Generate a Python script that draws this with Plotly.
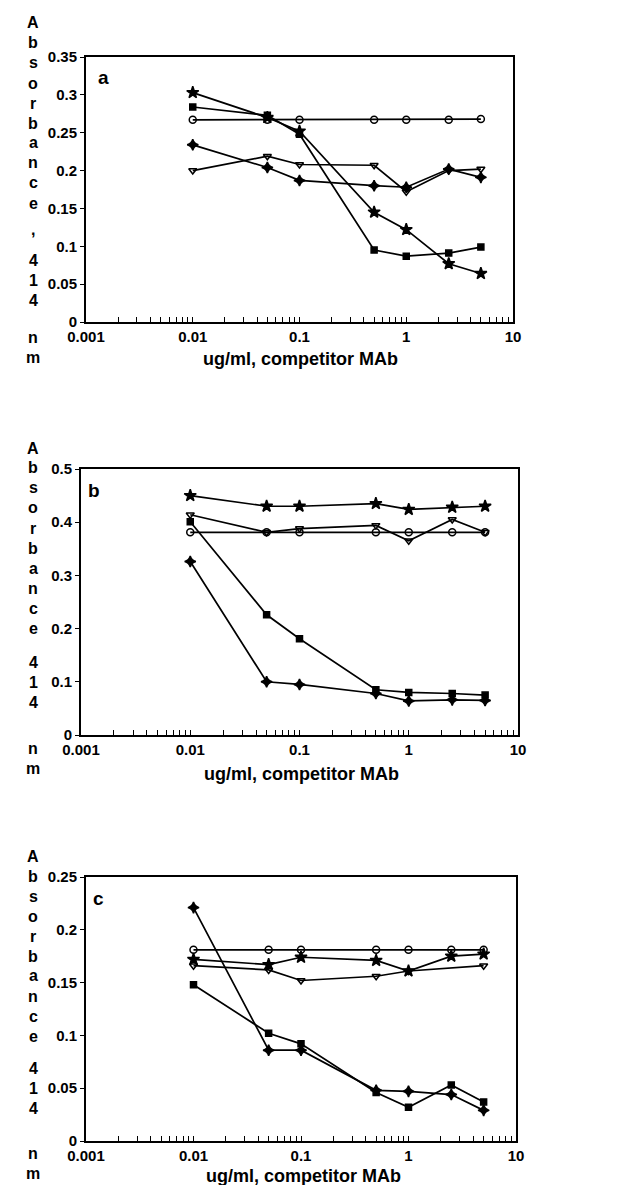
import plotly.graph_objects as go

# ---------------- data ----------------
conc = [0.01, 0.05, 0.1, 0.5, 1, 2.5, 5]

# panel a
a_circle = [0.267, 0.267, 0.267, 0.267, 0.267, 0.267, 0.268]
a_star = [0.303, 0.270, 0.252, 0.145, 0.122, 0.077, 0.064]
a_square = [0.284, 0.273, 0.248, 0.095, 0.087, 0.091, 0.099]
a_plus = [0.234, 0.204, 0.187, 0.180, 0.178, 0.202, 0.191]
a_tri = [0.200, 0.219, 0.208, 0.207, 0.172, 0.200, 0.202]

# panel b
b_circle = [0.381, 0.381, 0.381, 0.381, 0.381, 0.381, 0.381]
b_star = [0.450, 0.430, 0.430, 0.435, 0.424, 0.428, 0.430]
b_square = [0.401, 0.226, 0.181, 0.085, 0.080, 0.078, 0.075]
b_plus = [0.326, 0.100, 0.095, 0.078, 0.064, 0.066, 0.065]
b_tri = [0.414, 0.381, 0.388, 0.394, 0.365, 0.405, 0.381]

# panel c
c_circle = [0.181, 0.181, 0.181, 0.181, 0.181, 0.181, 0.181]
c_star = [0.172, 0.167, 0.174, 0.171, 0.161, 0.175, 0.177]
c_square = [0.148, 0.102, 0.092, 0.046, 0.032, 0.053, 0.037]
c_plus = [0.221, 0.086, 0.086, 0.048, 0.047, 0.044, 0.029]
c_tri = [0.166, 0.162, 0.152, 0.156, 0.161, None, 0.166]

panel_letters = ["a", "b", "c"]
x_ticks = [0.001, 0.01, 0.1, 1, 10]
x_ticktext = ["0.001", "0.01", "0.1", "1", "10"]
a_yticks = [0, 0.05, 0.1, 0.15, 0.2, 0.25, 0.3, 0.35]
a_yticktext = ["0", "0.05", "0.1", "0.15", "0.2", "0.25", "0.3", "0.35"]
b_yticks = [0, 0.1, 0.2, 0.3, 0.4, 0.5]
b_yticktext = ["0", "0.1", "0.2", "0.3", "0.4", "0.5"]
c_yticks = [0, 0.05, 0.1, 0.15, 0.2, 0.25]
c_yticktext = ["0", "0.05", "0.1", "0.15", "0.2", "0.25"]
x_title = "ug/ml, competitor MAb"
ytitle_a = ["A", "b", "s", "o", "r", "b", "a", "n", "c", "e", ",", "4", "1", "4", "n", "m"]
ytitle_bc = ["A", "b", "s", "o", "r", "b", "a", "n", "c", "e", "4", "1", "4", "n", "m"]

# ---------------- layout helpers ----------------
W, H = 630, 1185
FONT = "Liberation Sans, Arial, Helvetica, sans-serif"

def px_x(x):
    return x / W

def px_y(y):
    return 1 - y / H

# boxes in pixel coords (left, right, top, bottom)
boxes = [(78, 505, 49, 314), (73, 510, 461, 727), (78, 508, 869, 1133)]
yranges = [0.35, 0.5, 0.25]

fig = go.Figure()

series_sets = [
    (a_circle, a_star, a_square, a_plus, a_tri),
    (b_circle, b_star, b_square, b_plus, b_tri),
    (c_circle, c_star, c_square, c_plus, c_tri),
]
symbols = ["circle-open", "star", "square", "star-diamond", "triangle-down-open"]
sizes = [7, 9, 6, 8, 7]

minor_vals = []
for dec in [0.001, 0.01, 0.1, 1]:
    for k in range(1, 10):
        minor_vals.append(dec * k)
minor_vals.append(10)

for i, sers in enumerate(series_sets):
    xa = "x" if i == 0 else f"x{i+1}"
    ya = "y" if i == 0 else f"y{i+1}"
    for s, sym, sz in zip(sers, symbols, sizes):
        fig.add_trace(go.Scatter(
            x=conc, y=s, xaxis=xa, yaxis=ya, mode="lines+markers",
            connectgaps=True,
            line=dict(color="black", width=1.7),
            marker=dict(symbol=sym, size=sz, color="black",
                        line=dict(color="black", width=1.5)),
            showlegend=False,
        ))

yt = [(a_yticks, a_yticktext), (b_yticks, b_yticktext), (c_yticks, c_yticktext)]
for i, (l, r, t, b) in enumerate(boxes):
    xk = "xaxis" if i == 0 else f"xaxis{i+1}"
    yk = "yaxis" if i == 0 else f"yaxis{i+1}"
    xa_anchor = "y" if i == 0 else f"y{i+1}"
    ya_anchor = "x" if i == 0 else f"x{i+1}"
    ticktext = []
    for v in minor_vals:
        lab = ""
        for tv, tt in zip(x_ticks, x_ticktext):
            if abs(v - tv) / tv < 1e-9:
                lab = tt
        ticktext.append(lab)
    fig.layout[xk] = dict(
        type="log", range=[-3, 1], domain=[px_x(l), px_x(r)], anchor=xa_anchor,
        automargin=False,
        tickvals=minor_vals, ticktext=ticktext, ticks="inside", ticklen=5,
        tickwidth=1.4, tickcolor="black",
        showline=True, linecolor="black", linewidth=2, mirror=True,
        showgrid=False, zeroline=False,
        tickfont=dict(family=FONT, size=15, color="black", weight="bold"),
    )
    tv, tt = yt[i]
    fig.layout[yk] = dict(
        range=[0, yranges[i]], domain=[px_y(b), px_y(t)], anchor=ya_anchor,
        automargin=False,
        tickvals=tv, ticktext=tt, ticks="outside", ticklen=4, tickwidth=1.4,
        tickcolor="black",
        showline=True, linecolor="black", linewidth=2, mirror=True,
        showgrid=False, zeroline=False,
        tickfont=dict(family=FONT, size=15, color="black", weight="bold"),
    )

annotations = []

def ann(x, y, text, size):
    return dict(x=px_x(x), y=px_y(y), xref="paper", yref="paper",
                xanchor="center", yanchor="middle",
                text=text, showarrow=False,
                font=dict(family=FONT, size=size, color="black", weight="bold"))

# panel letters
letter_pos = [(95, 70), (86, 483), (90, 890)]
for (lx, ly), let in zip(letter_pos, panel_letters):
    annotations.append(ann(lx, ly, let, 19))
# x titles
xt_pos = [(292, 351), (293, 766), (295, 1168)]
for (tx, ty) in xt_pos:
    annotations.append(ann(tx, ty, x_title, 18))
# vertical stacked y titles
ya_pos = [15 + 20 * k for k in range(10)] + [221, 252, 272, 292, 330, 350]
yb_pos = [440 + 20 * k for k in range(10)] + [654, 674, 694, 740, 760]
yc_pos = [848 + 20 * k for k in range(10)] + [1060, 1080, 1100, 1145, 1165]
for chars, poss in [(ytitle_a, ya_pos), (ytitle_bc, yb_pos), (ytitle_bc, yc_pos)]:
    for ch, py in zip(chars, poss):
        annotations.append(ann(25, py, ch, 16))

fig.update_layout(
    template="none",
    width=W, height=H, margin=dict(l=0, r=0, t=0, b=0, autoexpand=False),
    paper_bgcolor="white", plot_bgcolor="white",
    annotations=annotations,
)

fig.write_html("out.html")
